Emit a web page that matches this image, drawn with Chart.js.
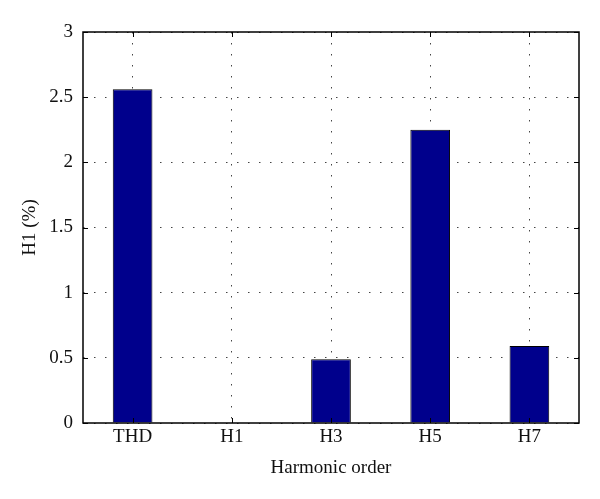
<!DOCTYPE html>
<html>
<head>
<meta charset="utf-8">
<script src="https://cdn.jsdelivr.net/npm/chart.js@4.4.0/dist/chart.umd.min.js"></script>
<style>
  html, body { margin: 0; padding: 0; background: #fff; }
  #wrap { width: 600px; height: 499px; }
</style>
</head>
<body>
<div id="wrap"><canvas id="chart"></canvas></div>
<script>
const categories = ['THD', 'H1', 'H3', 'H5', 'H7'];
const harmonicValues = [2.56, 0, 0.49, 2.25, 0.59];
const yTicks = [0, 0.5, 1, 1.5, 2, 2.5, 3];

const SERIF = '"Liberation Serif", "DejaVu Serif", serif';

// box round the plot plus matlab-style inward ticks on all four sides
const boxTicks = {
  id: 'boxTicks',
  afterDatasetsDraw(chart) {
    const { ctx, chartArea: a, scales } = chart;
    const len = 5;
    ctx.save();
    ctx.strokeStyle = '#000';
    ctx.lineWidth = 1;
    ctx.beginPath();
    scales.y.ticks.forEach(t => {
      const y = Math.round(scales.y.getPixelForValue(t.value)) + 0.5;
      ctx.moveTo(a.left, y); ctx.lineTo(a.left + len, y);
      ctx.moveTo(a.right, y); ctx.lineTo(a.right - len, y);
    });
    categories.forEach((c, i) => {
      const x = Math.round(scales.x.getPixelForValue(i)) + 0.5;
      ctx.moveTo(x, a.bottom); ctx.lineTo(x, a.bottom - len);
      ctx.moveTo(x, a.top); ctx.lineTo(x, a.top + len);
    });
    ctx.stroke();
    ctx.lineWidth = 1.5;
    ctx.strokeRect(a.left, a.top, a.right - a.left, a.bottom - a.top);
    ctx.restore();
  }
};

new Chart(document.getElementById('chart'), {
  type: 'bar',
  data: {
    labels: categories,
    datasets: [{
      data: harmonicValues,
      backgroundColor: 'rgb(0, 0, 140)',
      borderColor: '#000',
      borderWidth: 1,
      categoryPercentage: 1,
      barPercentage: 0.4,
    }],
  },
  options: {
    responsive: true,
    maintainAspectRatio: false,
    animation: false,
    layout: { padding: { left: 0, right: 21, top: 32, bottom: 0 } },
    plugins: {
      legend: { display: false },
      tooltip: { enabled: false },
    },
    scales: {
      x: {
        offset: true,
        grid: {
          offset: false,
          drawTicks: false,
          color: '#444',
          lineWidth: 1,
        },
        border: { display: false, dash: [1.5, 9.5] },
        ticks: { color: '#111', padding: 3, font: { family: SERIF, size: 19 } },
        title: {
          display: true,
          text: 'Harmonic order',
          color: '#111',
          font: { family: SERIF, size: 19 },
          padding: { top: 0, bottom: 20 },
        },
        afterFit(scale) { scale.height = 76; },
      },
      y: {
        min: 0,
        max: 3,
        afterBuildTicks(scale) { scale.ticks = yTicks.map(v => ({ value: v })); },
        grid: {
          drawTicks: false,
          color: '#444',
          lineWidth: 1,
        },
        border: { display: false, dash: [1.5, 9.5] },
        ticks: {
          color: '#111',
          padding: 10,
          font: { family: SERIF, size: 19 },
          callback: (v) => String(v),
        },
        title: {
          display: true,
          text: 'H1 (%)',
          color: '#111',
          font: { family: SERIF, size: 19 },
          padding: { top: 19, bottom: 0 },
        },
        afterFit(scale) { scale.width = 83; },
      },
    },
  },
  plugins: [boxTicks],
});
</script>
</body>
</html>
